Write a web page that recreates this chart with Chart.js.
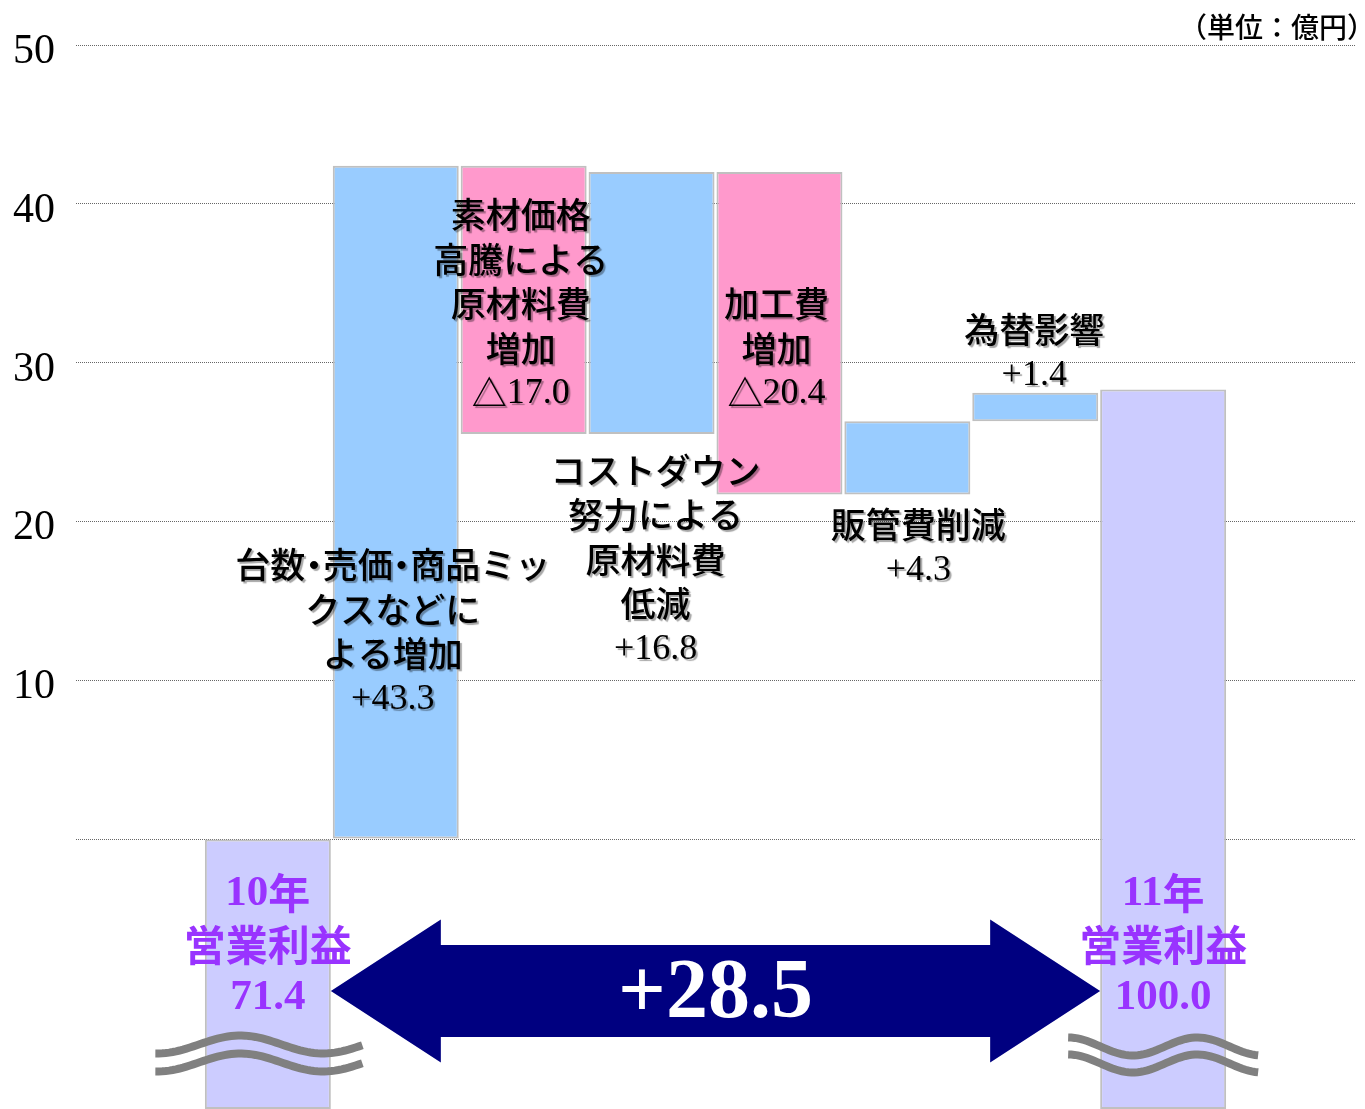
<!DOCTYPE html>
<html lang="ja">
<head>
<meta charset="utf-8">
<title>営業利益 増減要因</title>
<script src="https://cdn.jsdelivr.net/npm/chart.js@4.4.1/dist/chart.umd.min.js"></script>
<style>
  html, body { margin: 0; padding: 0; background: #fff; }
  #wrap { width: 1365px; height: 1109px; position: relative; }
</style>
</head>
<body>
<div id="wrap"><canvas id="bridge"></canvas></div>
<script>
// categories - first and last slots are empty spacers
const categories = ['', '10年', '台数・売価・商品ミックス', '素材価格高騰', 'コストダウン', '加工費', '販管費削減', '為替影響', '11年', ''];
// floating bars [low, high] (axis units)
const barLow  = [null, -17, 0,    25.5, 25.5, 21.7, 21.7, 26.3, -17,  null];
const barHigh = [null,  0,  42.4, 42.4, 42.0, 42.0, 26.3, 28.1, 28.3, null];
const barKind = ['', 'total', 'up', 'down', 'up', 'down', 'up', 'up', 'total', ''];
const yTickValues = [10, 20, 30, 40, 50];

// annotation texts
const factorTexts = [
  ['台数・売価・商品ミッ', 'クスなどに', 'よる増加', '+43.3'],
  ['素材価格', '高騰による', '原材料費', '増加', '△17.0'],
  ['コストダウン', '努力による', '原材料費', '低減', '+16.8'],
  ['加工費', '増加', '△20.4'],
  ['販管費削減', '+4.3'],
  ['為替影響', '+1.4']
];
const totalTexts = [
  ['10年', '営業利益', '71.4'],
  ['11年', '営業利益', '100.0']
];
const diffText = '+28.5';
const unitText = '（単位：億円）';

// where the texts sit: category index + value of first line
const factorPlace = [
  { cat: 2, top: 17.25, dx: -3 },
  { cat: 3, top: 39.3,  dx: -3 },
  { cat: 4, top: 23.2,  dx: 4 },
  { cat: 5, top: 33.7,  dx: -3 },
  { cat: 6, top: 19.8,  dx: 11 },
  { cat: 7, top: 32.05, dx: -1 }
];
const totalPlace = [{ cat: 1, top: -3.4 }, { cat: 8, top: -3.4 }];

const colors = { total: '#ccccff', up: '#99ccff', down: '#ff99cc' };
const JP = '"Noto Sans CJK JP", "Noto Sans", sans-serif';
const SERIF = '"Liberation Serif", "DejaVu Serif", serif';

// split a line into runs: serif numbers, half-width dots, gothic text
function splitRuns(text) {
  return text.match(/[0-9+.]+|・|[^0-9+.・]+/g) || [];
}

// draw one line that mixes gothic text and serif numbers, centred on cx
function drawMixed(ctx, text, cx, cy, opt) {
  const runs = splitRuns(text);
  const isNum = r => /^[0-9+.]/.test(r);
  const fontOf = r => isNum(r)
    ? `${opt.weight} ${opt.serifSize}px ${SERIF}`
    : `${opt.weight} ${opt.size}px ${JP}`;
  const widths = runs.map(r => {
    ctx.font = fontOf(r);
    return r === '・' ? opt.size * 0.5 : ctx.measureText(r).width;
  });
  const total = widths.reduce((a, b) => a + b, 0);
  let x = cx - total / 2;
  ctx.textBaseline = 'middle';
  runs.forEach((r, i) => {
    ctx.font = fontOf(r);
    if (r === '・') {
      ctx.textAlign = 'center';
      ctx.fillText(r, x + widths[i] / 2, cy);
    } else {
      ctx.textAlign = 'left';
      ctx.fillText(r, x, cy + (isNum(r) ? 1 : 0));
    }
    x += widths[i];
  });
}

function drawWave(ctx, cx, cy, width, peakAt, period, sign) {
  const amp = 9;
  ctx.beginPath();
  for (let i = 0; i <= 60; i++) {
    const t = i / 60;
    const px = cx - width / 2 + t * width;
    const py = cy + sign * amp * Math.cos(2 * Math.PI * (t - peakAt) / period);
    if (i === 0) ctx.moveTo(px, py); else ctx.lineTo(px, py);
  }
  ctx.stroke();
}

const overlay = {
  id: 'overlay',
  afterDraw(chart) {
    const { ctx, scales: { x, y } } = chart;
    const meta = chart.getDatasetMeta(0);
    ctx.save();

    // y tick labels, sitting a little under their grid lines
    ctx.fillStyle = '#000';
    ctx.font = `42px ${SERIF}`;
    ctx.textAlign = 'right';
    ctx.textBaseline = 'middle';
    yTickValues.forEach(v => ctx.fillText(String(v), 55, y.getPixelForValue(v) + 7));

    // unit label
    ctx.font = `500 28px ${JP}`;
    ctx.fillText(unitText, 1375, 27);

    // break marks on the two total bars
    ctx.strokeStyle = '#808080';
    ctx.lineWidth = 8;
    const wy = y.getPixelForValue(-13);
    const b1 = meta.data[1], b8 = meta.data[8];
    drawWave(ctx, b1.x - 9, wy - 1, 207, 0.41, 0.8, -1);
    drawWave(ctx, b1.x - 9, wy + 17, 207, 0.41, 0.8, -1);
    drawWave(ctx, b8.x, wy + 1, 190, 0.34, 0.68, 1);
    drawWave(ctx, b8.x, wy + 18, 190, 0.34, 0.68, 1);

    // double arrow between the two totals
    const left = b1.x + b1.width / 2, right = b8.x - b8.width / 2;
    const cy = y.getPixelForValue(-9.57);
    const head = 110, hh = 71.5, sh = 46;
    ctx.fillStyle = '#000080';
    ctx.beginPath();
    ctx.moveTo(left, cy);
    ctx.lineTo(left + head, cy - hh);
    ctx.lineTo(left + head, cy - sh);
    ctx.lineTo(right - head, cy - sh);
    ctx.lineTo(right - head, cy - hh);
    ctx.lineTo(right, cy);
    ctx.lineTo(right - head, cy + hh);
    ctx.lineTo(right - head, cy + sh);
    ctx.lineTo(left + head, cy + sh);
    ctx.lineTo(left + head, cy + hh);
    ctx.closePath();
    ctx.fill();
    ctx.fillStyle = '#fff';
    ctx.font = `bold 84px ${SERIF}`;
    ctx.textAlign = 'center';
    ctx.textBaseline = 'middle';
    ctx.fillText(diffText, (left + right) / 2, cy + 4);

    // total labels
    ctx.fillStyle = '#9933ff';
    totalTexts.forEach((lines, k) => {
      const p = totalPlace[k];
      const cx = x.getPixelForValue(p.cat);
      const top = y.getPixelForValue(p.top);
      lines.forEach((ln, j) => drawMixed(ctx, ln, cx, top + j * 52, { weight: 'bold', size: 42, serifSize: 43 }));
    });

    // factor labels with a soft shadow
    ctx.fillStyle = '#000';
    ctx.shadowColor = 'rgba(0,0,0,0.35)';
    ctx.shadowOffsetX = 2;
    ctx.shadowOffsetY = 2;
    ctx.shadowBlur = 1;
    factorTexts.forEach((lines, k) => {
      const p = factorPlace[k];
      const cx = x.getPixelForValue(p.cat) + p.dx;
      const top = y.getPixelForValue(p.top);
      lines.forEach((ln, j) => drawMixed(ctx, ln, cx, top + j * 44.5, { weight: 500, size: 35, serifSize: 36 }));
    });
    ctx.restore();
  }
};

new Chart(document.getElementById('bridge'), {
  type: 'bar',
  data: {
    labels: categories,
    datasets: [{
      data: categories.map((_, i) => barLow[i] == null ? null : [barLow[i], barHigh[i]]),
      backgroundColor: barKind.map(k => colors[k] || 'transparent'),
      borderColor: '#c0c0c0',
      borderWidth: 2,
      borderSkipped: false,
      barPercentage: 0.985,
      categoryPercentage: 1
    }]
  },
  options: {
    responsive: true,
    maintainAspectRatio: false,
    animation: false,
    layout: { padding: { left: 76, right: 10, top: 45, bottom: 0 } },
    plugins: { legend: { display: false }, tooltip: { enabled: false } },
    scales: {
      x: { display: false },
      y: {
        min: -17,
        max: 50,
        ticks: { display: false, stepSize: 10 },
        border: { display: false, dash: [1, 1] },
        grid: {
          drawTicks: false,
          lineWidth: 1,
          color: c => (c.tick && c.tick.value >= 0 ? '#666666' : 'rgba(0,0,0,0)')
        },
        afterFit: axis => { axis.width = 0; }
      }
    }
  },
  plugins: [overlay]
});
</script>
</body>
</html>
